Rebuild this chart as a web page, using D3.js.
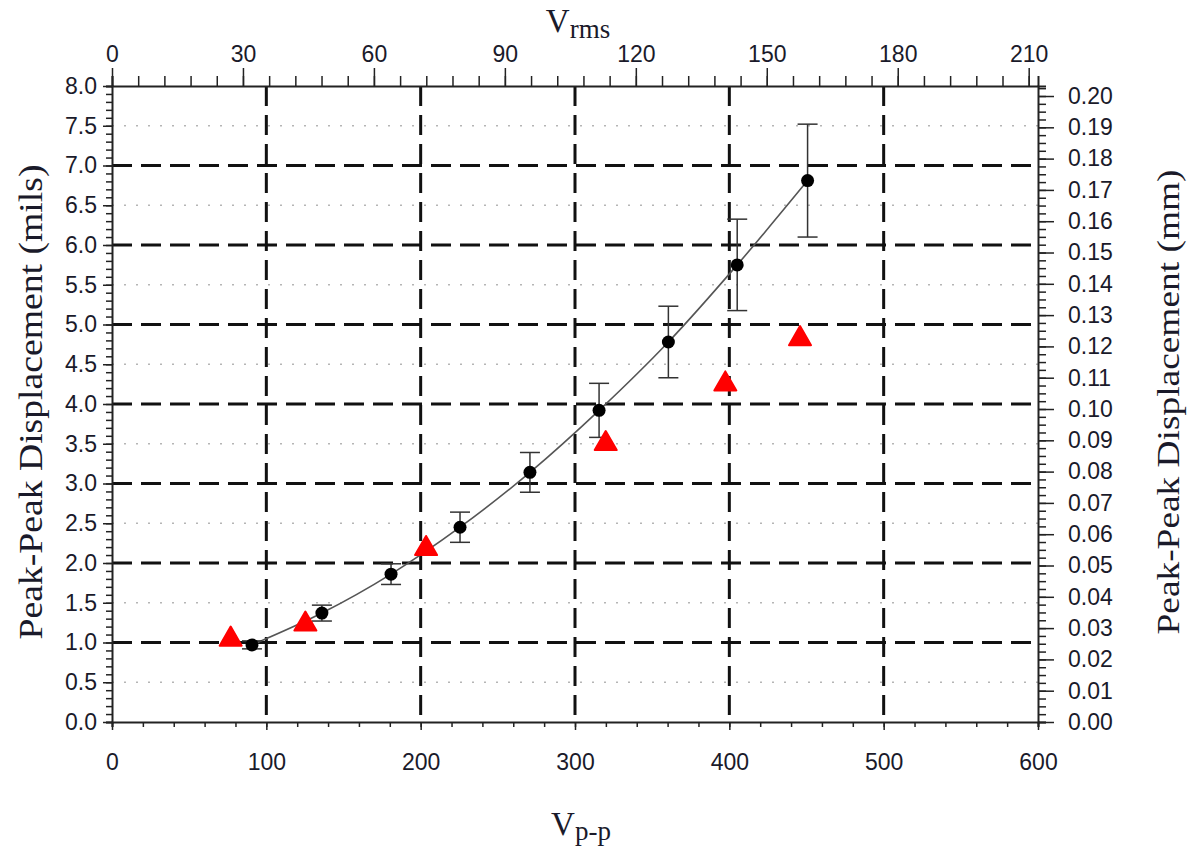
<!DOCTYPE html>
<html>
<head>
<meta charset="utf-8">
<script src="https://cdn.jsdelivr.net/npm/d3@7"></script>
<style>
  body { margin: 0; background: #fff; }
  .title { font-family: "Liberation Serif", "Times New Roman", serif; fill: #1a1a2a; }
</style>
</head>
<body>
<svg id="chart" width="1188" height="851"></svg>
<script>
// measured points (Vp-p, mils) with error half-widths
const vpp      = [90.7, 136, 180.8, 225.5, 270.8, 315.6, 360.5, 405.1, 450.7];
const mils     = [0.97, 1.37, 1.86, 2.45, 3.14, 3.92, 4.78, 5.75, 6.81];
const milsErr  = [0.05, 0.1, 0.13, 0.19, 0.25, 0.34, 0.45, 0.575, 0.71];
// second series (red triangles)
const triVpp   = [76.9, 125.3, 203.5, 319.9, 397.4, 445.8];
const triMils  = [1.04, 1.23, 2.18, 3.5, 4.25, 4.82];

const svg = d3.select('#chart');
const margin = {top: 86, bottom: 129, left: 112, right: 150};
const width = 1188, height = 851;
const innerWidth = width - margin.left - margin.right;
const innerHeight = height - margin.top - margin.bottom;

const x = d3.scaleLinear().domain([0, 600]).range([0, innerWidth]);
const y = d3.scaleLinear().domain([0, 8]).range([innerHeight, 0]);
// secondary scales: Vrms = Vpp / (2*sqrt 2), mm = mils * 0.0254
const xTop = d3.scaleLinear().domain([0, 600 / (2 * Math.SQRT2)]).range([0, innerWidth]);
const yRight = d3.scaleLinear().domain([0, 8 * 0.0254]).range([innerHeight, 0]);

const g = svg.append('g').attr('transform', 'translate(' + margin.left + ',' + margin.top + ')');

// dotted half-unit grid
g.append('g').selectAll('line')
  .data(d3.range(0.5, 8, 1))
  .enter().append('line')
  .attr('x1', 0).attr('x2', innerWidth)
  .attr('y1', d => y(d)).attr('y2', d => y(d))
  .attr('stroke', '#b5b5b5').attr('stroke-width', 1.5)
  .attr('stroke-dasharray', '2,10');

// heavy dashed grid
g.append('g').selectAll('line')
  .data(d3.range(1, 8))
  .enter().append('line')
  .attr('x1', 0).attr('x2', innerWidth)
  .attr('y1', d => y(d)).attr('y2', d => y(d))
  .attr('stroke', '#111').attr('stroke-width', 3)
  .attr('stroke-dasharray', '20,9');
g.append('g').selectAll('line')
  .data(d3.range(100, 600, 100))
  .enter().append('line')
  .attr('x1', d => x(d)).attr('x2', d => x(d))
  .attr('y1', 0).attr('y2', innerHeight)
  .attr('stroke', '#111').attr('stroke-width', 3)
  .attr('stroke-dasharray', '20,9');

// axes
function styleAxis(sel) {
  sel.attr('font-size', 23).attr('font-family', '"Liberation Sans", Arial, sans-serif');
  sel.selectAll('path').attr('stroke', '#222').attr('stroke-width', 2);
  sel.selectAll('line').attr('stroke', '#222').attr('stroke-width', 1.5);
  sel.selectAll('text').attr('fill', '#1a1a2a');
}
function minorOnly(sel) {
  sel.selectAll('text').remove();
}

// bottom
g.append('g').attr('transform', 'translate(0,' + innerHeight + ')')
  .call(d3.axisBottom(x).tickValues(d3.range(0, 601, 20)).tickSizeOuter(0).tickSize(5))
  .call(styleAxis).call(minorOnly);
const bx = g.append('g').attr('transform', 'translate(0,' + innerHeight + ')')
  .call(d3.axisBottom(x).tickValues(d3.range(0, 601, 100)).tickSize(8).tickPadding(24).tickFormat(d3.format('d')))
  .call(styleAxis);
bx.select('path').remove();

// top
g.append('g')
  .call(d3.axisTop(xTop).tickValues(d3.range(0, 211, 6)).tickSizeOuter(0).tickSize(10))
  .call(styleAxis).call(minorOnly);
const tx = g.append('g')
  .call(d3.axisTop(xTop).tickValues(d3.range(0, 211, 30)).tickSize(18).tickPadding(6).tickFormat(d3.format('d')))
  .call(styleAxis);
tx.select('path').remove();

// left
g.append('g')
  .call(d3.axisLeft(y).tickValues(d3.range(0, 8.01, 0.1)).tickSizeOuter(0).tickSize(6))
  .call(styleAxis).call(minorOnly);
const lx = g.append('g')
  .call(d3.axisLeft(y).tickValues(d3.range(0, 8.01, 0.5)).tickSize(9).tickPadding(6).tickFormat(d3.format('.1f')))
  .call(styleAxis);
lx.select('path').remove();

// right
g.append('g').attr('transform', 'translate(' + innerWidth + ',0)')
  .call(d3.axisRight(yRight).tickValues(d3.range(0, 0.2032, 0.0025)).tickSizeOuter(0).tickSize(8))
  .call(styleAxis).call(minorOnly);
const rx = g.append('g').attr('transform', 'translate(' + innerWidth + ',0)')
  .call(d3.axisRight(yRight).tickValues(d3.range(0, 0.2001, 0.01)).tickSize(16).tickPadding(14).tickFormat(d3.format('.2f')))
  .call(styleAxis);
rx.select('path').remove();

// fit curve through measured points
const line = d3.line()
  .x((d, i) => x(vpp[i]))
  .y(d => y(d))
  .curve(d3.curveMonotoneX);
g.append('path')
  .attr('d', line(mils))
  .attr('fill', 'none')
  .attr('stroke', '#555')
  .attr('stroke-width', 1.6);

// error bars
const eb = g.append('g').attr('stroke', '#333').attr('stroke-width', 1.5);
mils.forEach((m, i) => {
  const cx = x(vpp[i]);
  const yHi = y(m + milsErr[i]), yLo = y(m - milsErr[i]);
  eb.append('line').attr('x1', cx).attr('x2', cx).attr('y1', yHi).attr('y2', yLo);
  eb.append('line').attr('x1', cx - 10).attr('x2', cx + 10).attr('y1', yHi).attr('y2', yHi);
  eb.append('line').attr('x1', cx - 10).attr('x2', cx + 10).attr('y1', yLo).attr('y2', yLo);
});

g.append('g').selectAll('circle')
  .data(mils)
  .enter().append('circle')
  .attr('cx', (d, i) => x(vpp[i]))
  .attr('cy', d => y(d))
  .attr('r', 6.5)
  .attr('fill', '#000');

const tri = d3.symbol().type(d3.symbolTriangle).size(210);
g.append('g').selectAll('path')
  .data(triMils)
  .enter().append('path')
  .attr('d', tri)
  .attr('transform', (d, i) => 'translate(' + x(triVpp[i]) + ',' + y(d) + ')')
  .attr('fill', '#ff0000')
  .attr('stroke', '#ff0000')
  .attr('stroke-linejoin', 'round')
  .attr('stroke-width', 2);

// titles
const topTitle = svg.append('text').attr('class', 'title')
  .attr('x', 578).attr('y', 32).attr('text-anchor', 'middle').attr('font-size', 33);
topTitle.append('tspan').text('V');
topTitle.append('tspan').attr('font-size', 27).attr('dy', 6).text('rms');

const botTitle = svg.append('text').attr('class', 'title')
  .attr('x', 581).attr('y', 835).attr('text-anchor', 'middle').attr('font-size', 33);
botTitle.append('tspan').text('V');
botTitle.append('tspan').attr('font-size', 27).attr('dy', 5).text('p-p');

svg.append('text').attr('class', 'title')
  .attr('transform', 'translate(42,402) rotate(-90)')
  .attr('text-anchor', 'middle').attr('font-size', 34)
  .attr('textLength', 475).attr('lengthAdjust', 'spacingAndGlyphs')
  .text('Peak-Peak Displacement (mils)');

svg.append('text').attr('class', 'title')
  .attr('transform', 'translate(1179,402) rotate(-90)')
  .attr('text-anchor', 'middle').attr('font-size', 31)
  .attr('textLength', 465).attr('lengthAdjust', 'spacingAndGlyphs')
  .text('Peak-Peak Displacement (mm)');
</script>
</body>
</html>
